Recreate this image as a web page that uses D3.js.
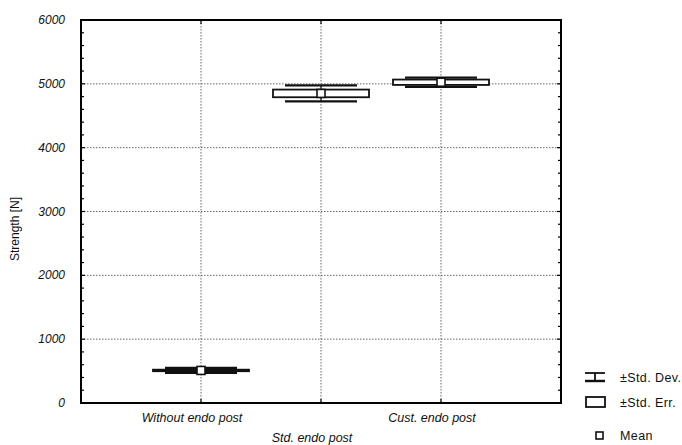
<!DOCTYPE html>
<html>
<head>
<meta charset="utf-8">
<script src="https://cdn.jsdelivr.net/npm/d3@7"></script>
<style>
  body { margin: 0; background: #fff; }
  svg { display: block; }
</style>
</head>
<body>
<svg id="chart"></svg>
<script>
// data
const categories = ['Without endo post', 'Std. endo post', 'Cust. endo post'];
const means = [510, 4850, 5025];
const stdErr = [12, 60, 42];
const stdDev = [40, 125, 73];
const yTicks = [0, 1000, 2000, 3000, 4000, 5000, 6000];
const legendItems = ['\u00b1Std. Dev.', '\u00b1Std. Err.', 'Mean'];

const width = 682, height = 445;
const margin = { left: 81, top: 20, right: 121, bottom: 42 };
const plotW = width - margin.left - margin.right;
const plotH = height - margin.top - margin.bottom;
const font = 'Liberation Sans, Arial, sans-serif';

const svg = d3.select('#chart')
    .attr('width', width)
    .attr('height', height);

const x = d3.scaleLinear().domain([0, categories.length + 1]).range([margin.left, margin.left + plotW]);
const y = d3.scaleLinear().domain([0, 6000]).range([margin.top + plotH, margin.top]);

// grid
const grid = svg.append('g')
    .attr('stroke', '#555')
    .attr('stroke-width', 0.9)
    .attr('stroke-dasharray', '1.5,1.5');

grid.selectAll('line.h')
    .data(yTicks.slice(1, -1))
    .enter().append('line')
    .attr('x1', x.range()[0]).attr('x2', x.range()[1])
    .attr('y1', d => y(d)).attr('y2', d => y(d));

grid.selectAll('line.v')
    .data(categories)
    .enter().append('line')
    .attr('x1', (d, i) => x(i + 1)).attr('x2', (d, i) => x(i + 1))
    .attr('y1', y.range()[1]).attr('y2', y.range()[0]);

// ticks inside the frame
const minor = d3.range(0, 6001, 200);
const ticks = svg.append('g').attr('stroke', '#000').attr('stroke-width', 1.2);
ticks.selectAll('line.l').data(minor).enter().append('line')
    .attr('x1', x.range()[0]).attr('x2', d => x.range()[0] + (d % 1000 === 0 ? 4 : 3))
    .attr('y1', d => y(d)).attr('y2', d => y(d));
ticks.selectAll('line.r').data(minor).enter().append('line')
    .attr('x1', x.range()[1]).attr('x2', d => x.range()[1] - (d % 1000 === 0 ? 4 : 3))
    .attr('y1', d => y(d)).attr('y2', d => y(d));
ticks.selectAll('line.t').data(categories).enter().append('line')
    .attr('x1', (d, i) => x(i + 1)).attr('x2', (d, i) => x(i + 1))
    .attr('y1', y.range()[1]).attr('y2', y.range()[1] + 4);
ticks.selectAll('line.b').data(categories).enter().append('line')
    .attr('x1', (d, i) => x(i + 1)).attr('x2', (d, i) => x(i + 1))
    .attr('y1', y.range()[0]).attr('y2', y.range()[0] - 4);

// boxes
const capHalf = 0.3, boxHalf = 0.4;
const boxes = svg.append('g').attr('stroke', '#111').attr('stroke-width', 1.8).attr('fill', 'none');

categories.forEach((c, i) => {
    const cx = i + 1;
    const m = means[i];
    // whisker stem
    boxes.append('line')
        .attr('x1', x(cx)).attr('x2', x(cx))
        .attr('y1', y(m - stdDev[i])).attr('y2', y(m + stdDev[i]))
        .attr('stroke-width', 1.2);
    // caps
    [m - stdDev[i], m + stdDev[i]].forEach(v => {
        boxes.append('line')
            .attr('x1', x(cx - capHalf)).attr('x2', x(cx + capHalf))
            .attr('y1', y(v)).attr('y2', y(v))
            .attr('stroke-width', 2.2);
    });
    // std err box
    boxes.append('rect')
        .attr('x', x(cx - boxHalf))
        .attr('y', y(m + stdErr[i]))
        .attr('width', x(cx + boxHalf) - x(cx - boxHalf))
        .attr('height', Math.max(1, y(m - stdErr[i]) - y(m + stdErr[i])))
        .attr('fill', '#fff');
    // mean
    boxes.append('rect')
        .attr('x', x(cx) - 4).attr('y', y(m) - 4)
        .attr('width', 8).attr('height', 8)
        .attr('fill', '#fff')
        .attr('stroke-width', 1.6);
});

// frame
svg.append('rect')
    .attr('x', x.range()[0]).attr('y', y.range()[1])
    .attr('width', plotW).attr('height', plotH)
    .attr('fill', 'none').attr('stroke', '#000').attr('stroke-width', 2);

// y tick labels
svg.append('g').selectAll('text')
    .data(yTicks)
    .enter().append('text')
    .attr('x', 65)
    .attr('y', d => y(d) + 4)
    .attr('text-anchor', 'end')
    .style('font-family', font)
    .style('font-style', 'italic')
    .style('font-size', '12px')
    .attr('fill', '#111')
    .text(d => d);

// y axis title
svg.append('text')
    .attr('transform', 'translate(19,229) rotate(-90)')
    .attr('text-anchor', 'middle')
    .style('font-family', font)
    .style('font-size', '12px')
    .attr('fill', '#111')
    .text('Strength [N]');

// category labels, staggered
svg.append('g').selectAll('text')
    .data(categories)
    .enter().append('text')
    .attr('x', (d, i) => x(i + 1) - 9)
    .attr('y', (d, i) => i % 2 === 0 ? 422 : 442)
    .attr('text-anchor', 'middle')
    .style('font-family', font)
    .style('font-style', 'italic')
    .style('font-size', '12.5px')
    .attr('fill', '#111')
    .text(d => d);

// legend
const legend = svg.append('g').attr('transform', 'translate(585,0)');
const ly = [377, 402, 435];
legend.selectAll('text')
    .data(legendItems)
    .enter().append('text')
    .attr('x', 35)
    .attr('y', (d, i) => ly[i] + 4.5)
    .style('font-family', font)
    .style('font-size', '12.5px')
    .style('letter-spacing', '0.4px')
    .attr('fill', '#111')
    .text(d => d);

const lsym = legend.append('g').attr('stroke', '#111').attr('fill', 'none').attr('stroke-width', 1.8);
lsym.append('line').attr('x1', 0).attr('x2', 20).attr('y1', ly[0] - 4).attr('y2', ly[0] - 4);
lsym.append('line').attr('x1', 0).attr('x2', 20).attr('y1', ly[0] + 4).attr('y2', ly[0] + 4).attr('stroke-width', 2.4);
lsym.append('line').attr('x1', 10).attr('x2', 10).attr('y1', ly[0] - 4).attr('y2', ly[0] + 4);
lsym.append('rect').attr('x', 1).attr('y', ly[1] - 5).attr('width', 19).attr('height', 10);
lsym.append('rect').attr('x', 11).attr('y', ly[2] - 3).attr('width', 7).attr('height', 7).attr('stroke-width', 1.6);
</script>
</body>
</html>
